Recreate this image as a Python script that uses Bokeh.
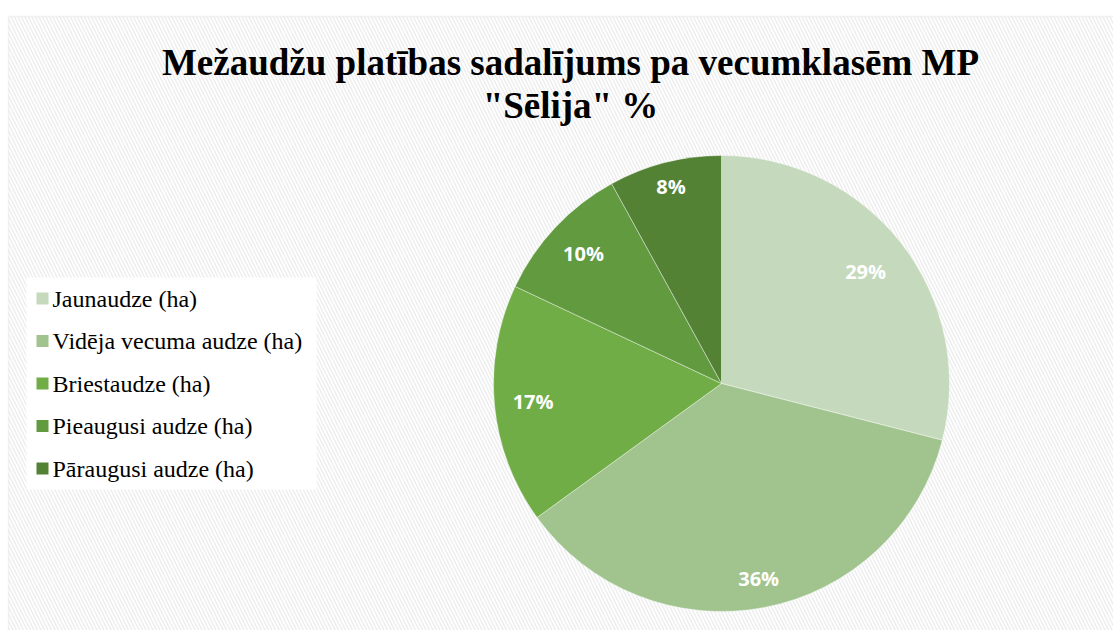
import math
from bokeh.plotting import figure
from bokeh.models import ColumnDataSource, Range1d, BoxAnnotation, Label
from bokeh.core.properties import value
from bokeh.embed import file_html
from bokeh.resources import INLINE

# ---- data ----
categories = ["Jaunaudze (ha)", "Vidēja vecuma audze (ha)", "Briestaudze (ha)",
              "Pieaugusi audze (ha)", "Pāraugusi audze (ha)"]
shares = [29, 36, 17, 10, 8]
colors = ["#C5D9BC", "#A1C48F", "#70AD47", "#619A3F", "#548235"]
title_lines = ["Mežaudžu platības sadalījums pa vecumklasēm MP", "\"Sēlija\" %"]

# ---- layout (pixel coordinates) ----
W, H = 1113, 630
def sy(screen_y):
    return H - screen_y
def sx(screen_x):
    return screen_x

cx, cy, R = sx(721), sy(383), 228
label_fracs = [0.80, 0.87, 0.83, 0.83, 0.89]

total = float(sum(shares))
starts, ends, lx, ly, texts = [], [], [], [], []
cum = 0.0
for v, f in zip(shares, label_fracs):
    a0 = math.pi / 2 - 2 * math.pi * cum / total
    cum += v
    a1 = math.pi / 2 - 2 * math.pi * cum / total
    starts.append(a1)
    ends.append(a0)
    mid = (a0 + a1) / 2
    lx.append(cx + f * R * math.cos(mid))
    ly.append(cy + f * R * math.sin(mid))
    texts.append(f"{v}%")

src = ColumnDataSource(dict(name=categories, start=starts, end=ends, color=colors,
                            lx=lx, ly=ly, txt=texts))

p = figure(width=W, height=H, output_backend="svg", toolbar_location=None,
           x_range=Range1d(0, W), y_range=Range1d(0, H), min_border=0)
p.axis.visible = False
p.grid.visible = False
p.outline_line_color = None
p.background_fill_color = "white"
p.border_fill_color = "white"

bg = BoxAnnotation(left=sx(8), right=W + 20, bottom=-20, top=sy(16),
                   fill_color="white", fill_alpha=1.0,
                   line_color="#d9d9d9", line_width=1.5,
                   hatch_pattern="\\", hatch_color="#eeeeee", hatch_scale=7,
                   hatch_weight=1.5, level="underlay")
p.add_layout(bg)

# legend box
leg_top, leg_pitch = 277, 42.5
leg_box = BoxAnnotation(left=sx(26), right=sx(316), top=sy(leg_top), bottom=sy(leg_top + 212),
                        fill_color="white", fill_alpha=1.0, line_color=None,
                        level="underlay")
p.add_layout(leg_box)

p.wedge(x=cx, y=cy, radius=R, start_angle="start", end_angle="end",
        direction="anticlock", fill_color="color", line_color="white",
        line_alpha=0.5, line_width=0.8, source=src)

p.text(x="lx", y="ly", text="txt", source=src, text_color="white",
       text_font=value("Open Sans"), text_font_style="bold", text_font_size="20px",
       text_align="center", text_baseline="middle")

for i, t in enumerate(title_lines):
    p.add_layout(Label(x=sx(570), y=sy(62 + 43 * i), text=t, text_align="center",
                       text_baseline="middle", text_font="Liberation Serif",
                       text_font_style="bold", text_font_size="37px",
                       text_color="black"))

# manual legend built from the data arrays
leg_y = [sy(leg_top + 21 + leg_pitch * i) for i in range(len(categories))]
leg_src = ColumnDataSource(dict(y=leg_y, name=categories, color=colors))
p.scatter(x=sx(42), y="y", marker="square", size=12, fill_color="color",
          line_color=None, source=leg_src)
p.text(x=sx(52), y="y", text="name", source=leg_src, text_color="#000000",
       text_font=value("Liberation Serif"), text_font_size="24px",
       text_align="left", text_baseline="middle")

open("out.html", "w").write(file_html(p, INLINE))
